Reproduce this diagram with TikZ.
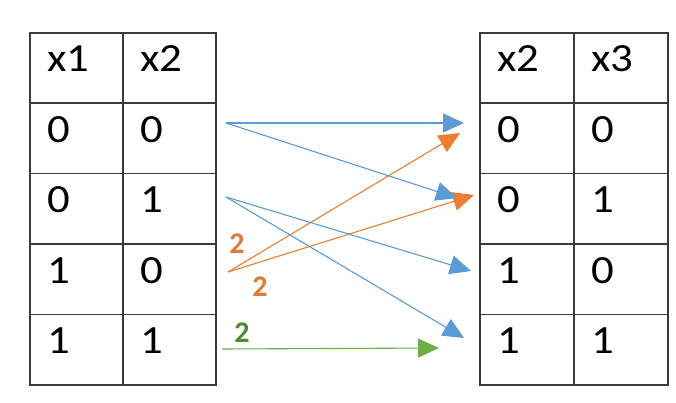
\documentclass[tikz,border=0pt]{standalone}
\usepackage{fontspec}
\setmainfont{Carlito}
\usetikzlibrary{arrows.meta,calc}
\definecolor{gridline}{HTML}{3A3A3A}
\definecolor{mblue}{HTML}{5B9BD5}
\definecolor{morange}{HTML}{ED7D31}
\definecolor{mgreen}{HTML}{70AD47}
\definecolor{morangetxt}{HTML}{E07A34}
\definecolor{mgreentxt}{HTML}{4F8A2E}
\tikzset{
  cell/.style={draw=gridline,line width=1.6pt,anchor=north west,inner sep=0pt,
    minimum width=#1,minimum height=70.4pt},
  cell/.default=93pt,
  val/.style={anchor=base west,inner sep=0pt,font=\fontsize{40}{40}\selectfont\addfontfeature{FakeStretch=1.12}},
  link/.style={line width=1.1pt,-{Triangle[length=21pt,width=19pt]}},
  wt/.style={inner sep=0pt,font=\fontsize{30}{30}\selectfont\bfseries}
}
\newcommand{\tcell}[4]{%
  \node[cell=#4] (#1) at (#2) {};
  \node[val] (#1t) at ($(#1.north west)+(18,40)$) {#3};}
\begin{document}
\begin{tikzpicture}[x=1pt,y=-1pt]
\useasboundingbox[fill=white] (0,0) rectangle (676,403);
% left table
\tcell{LH1}{29,32}{x1}{93pt}
\tcell{LH2}{122,32}{x2}{93pt}
\tcell{La1}{29,102.4}{0}{93pt}
\tcell{Lb1}{122,102.4}{0}{93pt}
\tcell{La2}{29,172.8}{0}{93pt}
\tcell{Lb2}{122,172.8}{1}{93pt}
\tcell{La3}{29,243.2}{1}{93pt}
\tcell{Lb3}{122,243.2}{0}{93pt}
\tcell{La4}{29,313.6}{1}{93pt}
\tcell{Lb4}{122,313.6}{1}{93pt}
% right table
\tcell{RH1}{479,32}{x2}{94pt}
\tcell{RH2}{573,32}{x3}{94pt}
\tcell{Ra1}{479,102.4}{0}{94pt}
\tcell{Rb1}{573,102.4}{0}{94pt}
\tcell{Ra2}{479,172.8}{0}{94pt}
\tcell{Rb2}{573,172.8}{1}{94pt}
\tcell{Ra3}{479,243.2}{1}{94pt}
\tcell{Rb3}{573,243.2}{0}{94pt}
\tcell{Ra4}{479,313.6}{1}{94pt}
\tcell{Rb4}{573,313.6}{1}{94pt}
% arrow ends
\coordinate (s1) at (226,123);
\coordinate (s2) at (226,197);
\coordinate (s3) at (228,272);
\coordinate (s4) at (222,349);
\coordinate (e1) at (464,123);
\coordinate (e2) at (457,198);
\coordinate (e3) at (460,133);
\coordinate (e4) at (474,195);
\coordinate (e5) at (471,271);
\coordinate (e6) at (464,338);
\coordinate (e7) at (439,348);
% connectors
\draw[link,morange] (s3) -- (e3);
\draw[link,morange] (s3) -- (e4);
\draw[link,mblue] (s1) -- (e1);
\draw[link,mblue] (s1) -- (e2);
\draw[link,mblue] (s2) -- (e5);
\draw[link,mblue] (s2) -- (e6);
\draw[link,mgreen] (s4) -- (e7);
% weights
\node[wt,text=morangetxt] (w1) at (237,244) {2};
\node[wt,text=morangetxt] (w2) at (260,287) {2};
\node[wt,text=mgreentxt] (w3) at (242,333) {2};
\end{tikzpicture}
\end{document}
